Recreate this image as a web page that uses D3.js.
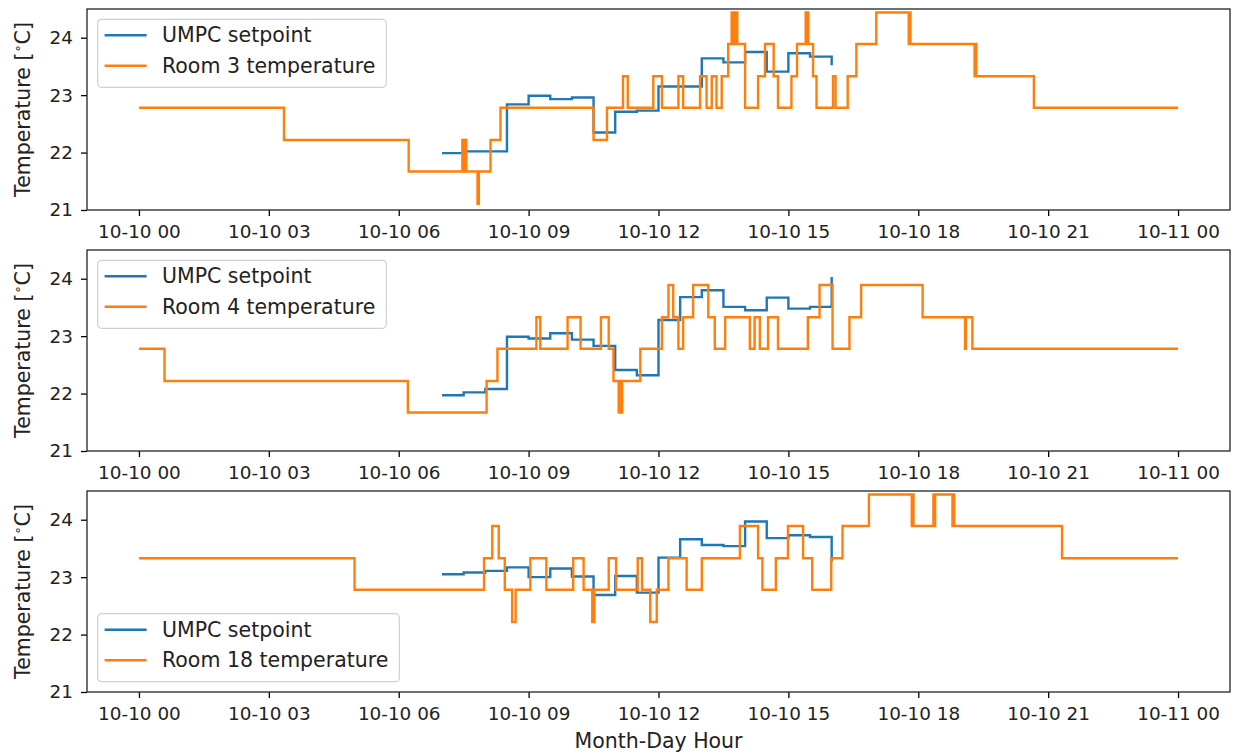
<!DOCTYPE html>
<html>
<head>
<meta charset="utf-8">
<script src="https://cdn.jsdelivr.net/npm/d3@7"></script>
<style>
  body { margin: 0; background: #fff; }
  svg { display: block; font-family: "DejaVu Sans", sans-serif; }
</style>
</head>
<body>
<svg id="chart" width="1233" height="756"></svg>
<script>
// hours since 10-10 00:00, value in °C (step-post)
const room3Setpoint = [
  [7.0, 21.99], [7.5, 22.02], [8.5, 22.84], [9.0, 22.99], [9.5, 22.93], [10.0, 22.96],
  [10.5, 22.35], [11.0, 22.71], [11.5, 22.73], [12.0, 23.15], [13.0, 23.64], [13.5, 23.57],
  [14.0, 23.75], [14.5, 23.41], [15.0, 23.73], [15.5, 23.67], [16.0, 23.52]
];
const room3Temp = [
  [0, 22.78], [3.35, 22.22], [6.23, 21.67],
  [7.47, 22.22], [7.49, 21.67], [7.51, 22.22], [7.53, 21.67], [7.55, 22.22], [7.56, 21.67],
  [7.82, 21.11], [7.85, 21.67], [8.12, 22.22], [8.35, 22.78], [10.50, 22.22], [10.81, 22.78],
  [11.18, 23.33], [11.29, 22.78], [11.88, 23.33], [12.08, 22.78], [12.46, 23.33], [12.57, 22.78],
  [12.96, 23.33], [13.11, 22.78], [13.23, 23.33], [13.34, 22.78], [13.46, 23.33], [13.61, 23.89],
  [13.69, 24.44], [13.72, 23.89], [13.74, 24.44], [13.77, 23.89], [13.79, 24.44], [13.82, 23.89],
  [14.00, 22.78], [14.30, 23.33], [14.46, 23.89], [14.66, 23.33], [14.76, 22.78], [15.07, 23.33],
  [15.20, 23.89], [15.40, 24.44], [15.42, 23.89], [15.44, 24.44], [15.46, 23.89], [15.57, 23.33],
  [15.65, 22.78], [16.03, 23.33], [16.09, 22.78], [16.37, 23.33], [16.57, 23.89], [17.03, 24.44],
  [17.78, 23.89], [17.80, 24.44], [17.82, 23.89], [19.30, 23.33], [19.32, 23.89], [19.34, 23.33],
  [20.67, 22.78], [24.0, 22.78]
];

const room4Setpoint = [
  [7.0, 21.97], [7.5, 22.02], [8.0, 22.08], [8.5, 22.99], [9.0, 22.96], [9.5, 23.05],
  [10.0, 22.94], [10.5, 22.83], [11.0, 22.41], [11.5, 22.32], [12.0, 23.28], [12.5, 23.68],
  [13.0, 23.80], [13.5, 23.51], [14.0, 23.45], [14.5, 23.67], [15.0, 23.48], [15.5, 23.51],
  [16.0, 24.03]
];
const room4Temp = [
  [0, 22.78], [0.59, 22.22], [6.21, 21.67], [8.03, 22.22], [8.28, 22.78], [9.18, 23.33],
  [9.27, 22.78], [9.90, 23.33], [10.20, 22.78], [10.67, 23.33], [10.85, 22.78], [10.96, 22.22],
  [11.08, 21.67], [11.10, 22.22], [11.12, 21.67], [11.14, 22.22], [11.15, 21.67], [11.16, 22.22],
  [11.58, 22.78], [12.08, 23.33], [12.23, 23.89], [12.34, 23.33], [12.46, 22.78], [12.57, 23.33],
  [12.80, 23.89], [13.15, 23.33], [13.30, 22.78], [13.54, 23.33], [14.11, 22.78], [14.22, 23.33],
  [14.34, 22.78], [14.53, 23.33], [14.76, 22.78], [15.45, 23.33], [15.72, 23.89], [16.02, 22.78],
  [16.41, 23.33], [16.68, 23.89], [18.10, 23.33], [19.08, 22.78], [19.10, 23.33], [19.25, 22.78],
  [24.0, 22.78]
];

const room18Setpoint = [
  [7.0, 23.05], [7.5, 23.08], [8.0, 23.11], [8.5, 23.17], [9.0, 23.00], [9.5, 23.15],
  [10.0, 23.01], [10.5, 22.69], [11.0, 23.02], [11.5, 22.73], [12.0, 23.34], [12.5, 23.66],
  [13.0, 23.56], [13.5, 23.54], [14.0, 23.97], [14.5, 23.68], [15.0, 23.73], [15.5, 23.70],
  [16.0, 23.27]
];
const room18Temp = [
  [0, 23.33], [4.98, 22.78], [7.97, 23.33], [8.16, 23.89], [8.31, 23.33], [8.45, 22.78],
  [8.62, 22.22], [8.70, 22.78], [9.04, 23.33], [9.41, 22.78], [10.03, 23.33], [10.27, 22.78],
  [10.47, 22.22], [10.52, 22.78], [10.85, 23.33], [11.02, 22.78], [11.52, 23.33], [11.62, 22.78],
  [11.81, 22.22], [11.96, 22.78], [12.23, 23.33], [12.65, 22.78], [13.00, 23.33], [13.88, 23.89],
  [14.30, 23.33], [14.40, 22.78], [14.71, 23.33], [14.99, 23.89], [15.34, 23.33], [15.55, 22.78],
  [15.99, 23.33], [16.25, 23.89], [16.86, 24.44], [17.85, 23.89], [17.87, 24.44], [17.89, 23.89],
  [18.35, 24.44], [18.37, 23.89], [18.39, 24.44], [18.79, 23.89], [18.81, 24.44], [18.83, 23.89],
  [21.32, 23.33], [24.0, 23.33]
];

const yTicks = [21, 22, 23, 24];
const yRange = [21, 24.5];
const seriesNames = ['UMPC setpoint', 'temperature'];

const panels = [
  { room: 3, setpoint: room3Setpoint, temp: room3Temp, legend: 'top' },
  { room: 4, setpoint: room4Setpoint, temp: room4Temp, legend: 'top' },
  { room: 18, setpoint: room18Setpoint, temp: room18Temp, legend: 'bottom' }
];

const BLUE = '#1f77b4';
const ORANGE = '#ff7f0e';
const TICK_FS = 18.4, LABEL_FS = 20.5;
const MARGIN = { left: 87, right: 3 };
const PANEL_TOP = 9, PANEL_H = 201, PANEL_STEP = 241;
const W = 1233;
const plotW = W - MARGIN.left - MARGIN.right;

const base = Date.UTC(2023, 9, 10);
const toDate = h => new Date(base + h * 3600e3);

const svg = d3.select('#chart');

const x = d3.scaleUtc()
  .domain([toDate(-1.2), toDate(25.2)])
  .range([0, plotW]);

const fmt = d3.utcFormat('%m-%d %H');

panels.forEach((p, i) => {
  const top = PANEL_TOP + i * PANEL_STEP;
  const g = svg.append('g').attr('transform', `translate(${MARGIN.left},${top})`);

  const y = d3.scaleLinear().domain(yRange).range([PANEL_H, 0]);

  g.append('clipPath').attr('id', `clip${i}`)
    .append('rect').attr('width', plotW).attr('height', PANEL_H);

  const line = d3.line()
    .x(d => x(toDate(d[0])))
    .y(d => y(d[1]))
    .curve(d3.curveStepAfter);

  const lines = g.append('g').attr('clip-path', `url(#clip${i})`);
  lines.append('path').datum(p.setpoint)
    .attr('d', line).attr('fill', 'none')
    .attr('stroke', BLUE).attr('stroke-width', 2.4);
  lines.append('path').datum(p.temp)
    .attr('d', line).attr('fill', 'none')
    .attr('stroke', ORANGE).attr('stroke-width', 2.4);

  // x axis
  const xAxis = g.append('g')
    .attr('transform', `translate(0,${PANEL_H})`)
    .call(d3.axisBottom(x).ticks(d3.utcHour.every(3)).tickFormat(fmt).tickSizeOuter(0).tickSize(6).tickPadding(9));
  xAxis.select('.domain').remove();
  xAxis.selectAll('line').attr('stroke', '#000').attr('stroke-width', 1.3);
  xAxis.selectAll('text').attr('fill', '#222').attr('font-size', TICK_FS)
    .attr('font-family', 'DejaVu Sans');

  // y axis
  const yAxis = g.append('g')
    .call(d3.axisLeft(y).tickValues(yTicks).tickFormat(d3.format('d')).tickSizeOuter(0).tickSize(6).tickPadding(8));
  yAxis.select('.domain').remove();
  yAxis.selectAll('line').attr('stroke', '#000').attr('stroke-width', 1.3);
  yAxis.selectAll('text').attr('fill', '#222').attr('font-size', TICK_FS)
    .attr('font-family', 'DejaVu Sans');

  // frame
  g.append('rect').attr('width', plotW).attr('height', PANEL_H)
    .attr('fill', 'none').attr('stroke', '#222').attr('stroke-width', 1.3);

  // y label
  const yl = g.append('text')
    .attr('transform', `translate(${22.5 - MARGIN.left},${PANEL_H / 2}) rotate(-90)`)
    .attr('text-anchor', 'middle')
    .attr('dy', '0.35em')
    .attr('font-size', LABEL_FS)
    .attr('fill', '#222');
  yl.append('tspan').text('Temperature [');
  yl.append('tspan').attr('font-size', 13).attr('dy', -8).text('∘');
  yl.append('tspan').attr('dy', 8).text('C]');

  // legend
  const lgTop = p.legend === 'top' ? 10.3 : PANEL_H - 78.3;
  const lg = g.append('g').attr('transform', `translate(10.6,${lgTop})`);
  const box = lg.append('rect')
    .attr('rx', 4).attr('ry', 4)
    .attr('fill', '#fff').attr('fill-opacity', 0.8)
    .attr('stroke', '#d0d0d0').attr('stroke-width', 1.2);
  const labels = [seriesNames[0], `Room ${p.room} ${seriesNames[1]}`];
  const colors = [BLUE, ORANGE];
  let maxW = 0;
  labels.forEach((lab, k) => {
    const cy = 16 + k * 30.5;
    lg.append('line').attr('x1', 7).attr('x2', 49).attr('y1', cy).attr('y2', cy)
      .attr('stroke', colors[k]).attr('stroke-width', 2.4);
    const t = lg.append('text').attr('x', 64.4).attr('y', cy).attr('dy', '0.35em')
      .attr('font-size', LABEL_FS).attr('fill', '#222').text(lab);
    maxW = Math.max(maxW, t.node().getComputedTextLength());
  });
  box.attr('width', 64.4 + maxW + 11).attr('height', 68);
});

svg.append('text')
  .attr('x', MARGIN.left + plotW / 2)
  .attr('y', 748)
  .attr('text-anchor', 'middle')
  .attr('font-size', LABEL_FS)
  .attr('fill', '#222')
  .text('Month-Day Hour');
</script>
</body>
</html>
